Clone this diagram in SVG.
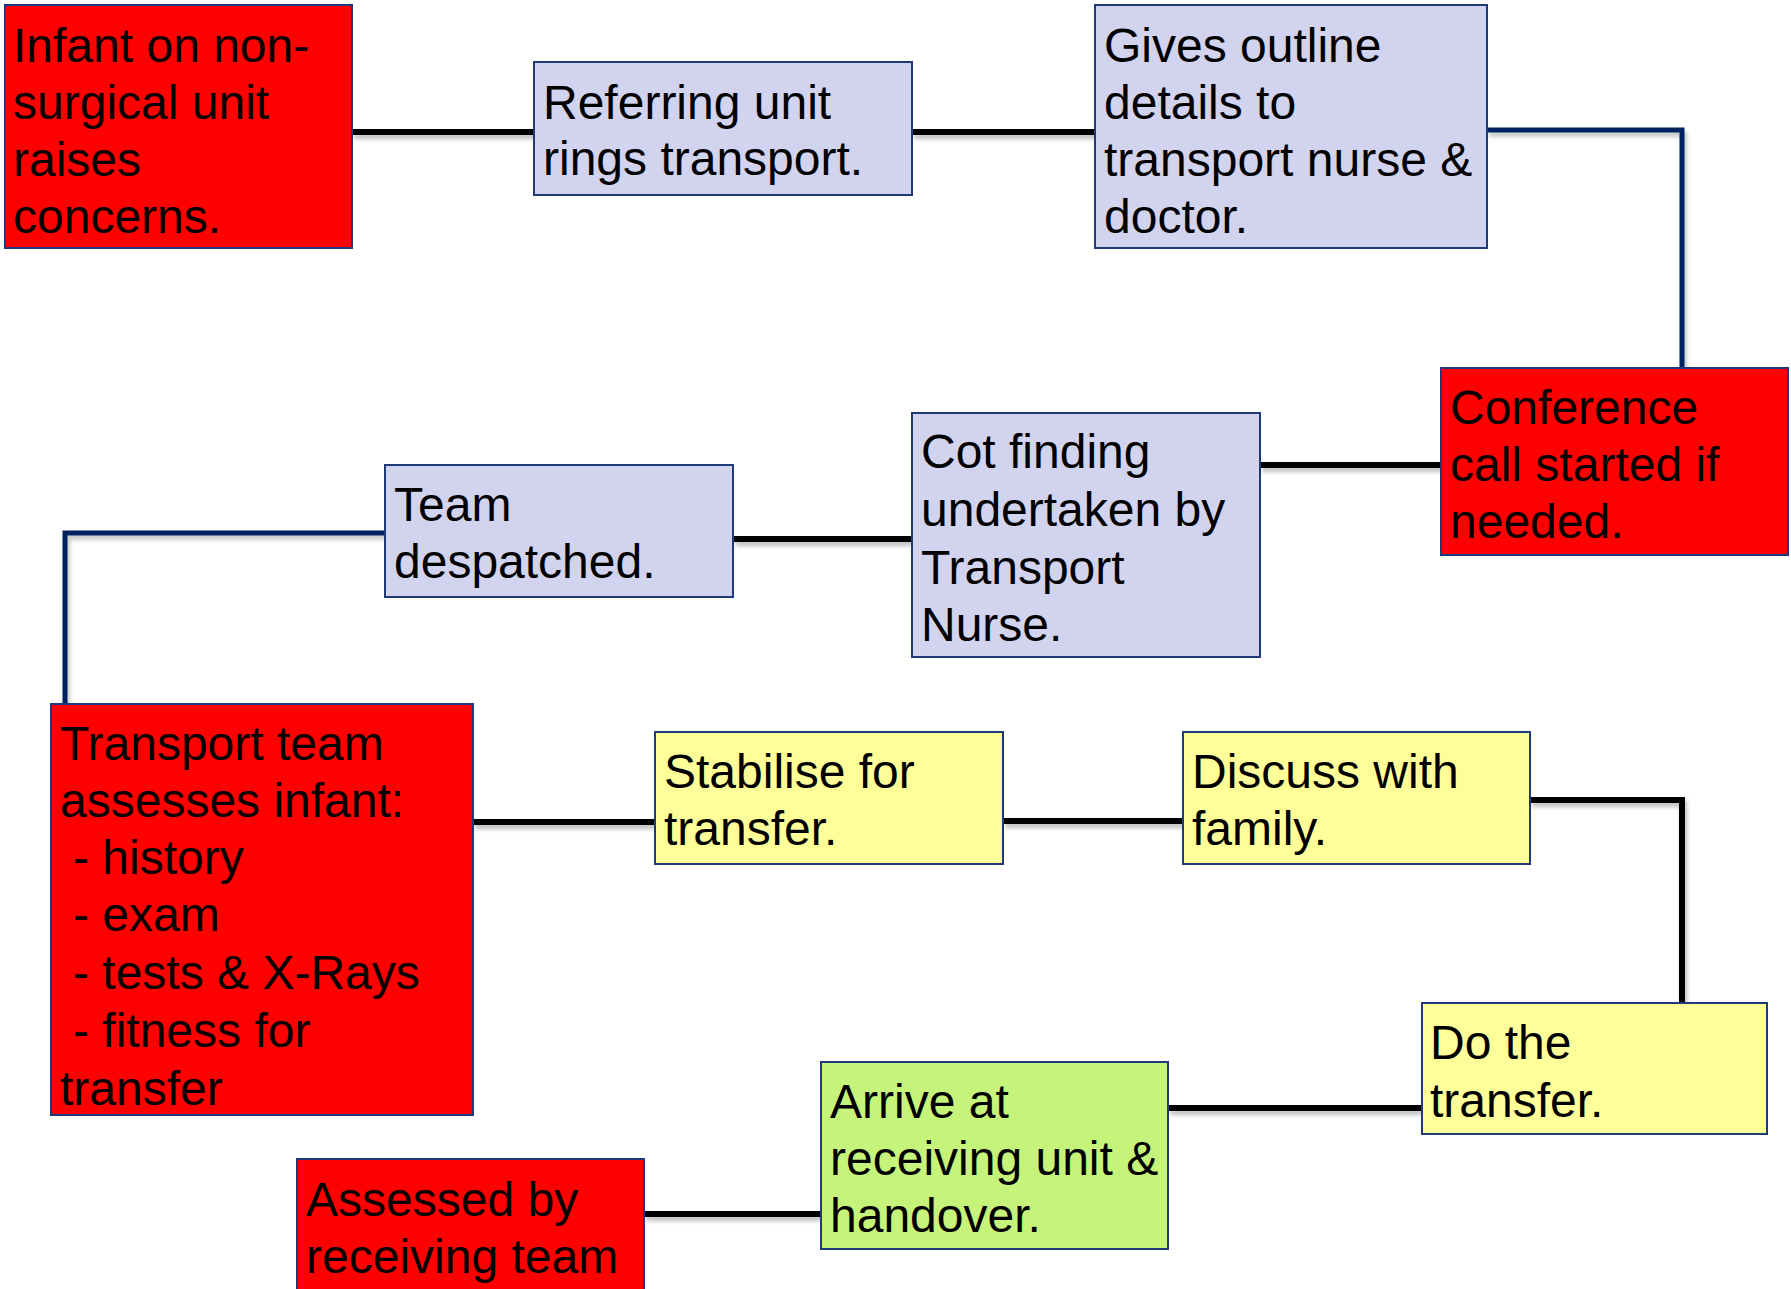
<svg xmlns="http://www.w3.org/2000/svg" width="1791" height="1289" viewBox="0 0 1791 1289">
<defs>
<style>
.box{stroke:#1f3a78;stroke-width:2}
.red{fill:#ff0000}
.lav{fill:#d1d3ef}
.yel{fill:#ffff99}
.grn{fill:#c6f47a}
.t{font-family:"Liberation Sans",Arial,sans-serif;font-size:48px;fill:#000}
.cb{fill:none;stroke:#000;stroke-width:6;filter:url(#sh)}
.cn{fill:none;stroke:#002060;stroke-width:5;filter:url(#sh)}
</style>
<filter id="sh" filterUnits="userSpaceOnUse" x="0" y="0" width="1791" height="1289">
<feDropShadow dx="2" dy="4" stdDeviation="2" flood-color="#000" flood-opacity="0.25"/>
</filter>
</defs>
<rect width="1791" height="1289" fill="#fff"/>
<g id="connectors">
<path class="cb" d="M352 132 H534"/>
<path class="cb" d="M912 132 H1095"/>
<path class="cn" d="M1487 130 H1682 V368"/>
<path class="cb" d="M1441 465 H1260"/>
<path class="cb" d="M912 539 H733"/>
<path class="cn" d="M385 533 H65 V703"/>
<path class="cb" d="M473 822 H655"/>
<path class="cb" d="M1003 821 H1183"/>
<path class="cb" d="M1530 800 H1682 V1003"/>
<path class="cb" d="M1422 1108 H1168"/>
<path class="cb" d="M821 1214 H644"/>
</g>
<g id="n1"><rect class="box red" x="5" y="5" width="347" height="243"/>
<text class="t" x="13" y="62">Infant on non-</text><text class="t" x="13" y="119">surgical unit</text><text class="t" x="13" y="176">raises</text><text class="t" x="13" y="233">concerns.</text></g>
<g id="n2"><rect class="box lav" x="534" y="62" width="378" height="133"/>
<text class="t" x="543" y="119">Referring unit</text><text class="t" x="543" y="175">rings transport.</text></g>
<g id="n3"><rect class="box lav" x="1095" y="5" width="392" height="243"/>
<text class="t" x="1104" y="62">Gives outline</text><text class="t" x="1104" y="119">details to</text><text class="t" x="1104" y="176">transport nurse &amp;</text><text class="t" x="1104" y="233">doctor.</text></g>
<g id="n4"><rect class="box red" x="1441" y="368" width="347" height="187"/>
<text class="t" x="1450" y="424">Conference</text><text class="t" x="1450" y="481">call started if</text><text class="t" x="1450" y="538">needed.</text></g>
<g id="n5"><rect class="box lav" x="912" y="413" width="348" height="244"/>
<text class="t" x="921" y="468">Cot finding</text><text class="t" x="921" y="526">undertaken by</text><text class="t" x="921" y="584">Transport</text><text class="t" x="921" y="641">Nurse.</text></g>
<g id="n6"><rect class="box lav" x="385" y="465" width="348" height="132"/>
<text class="t" x="394" y="521">Team</text><text class="t" x="394" y="578">despatched.</text></g>
<g id="n7"><rect class="box red" x="51" y="704" width="422" height="411"/>
<text class="t" x="60" y="760">Transport team</text><text class="t" x="60" y="817">assesses infant:</text><text class="t" x="73" y="874">- history</text><text class="t" x="73" y="931">- exam</text><text class="t" x="73" y="989">- tests &amp; X-Rays</text><text class="t" x="73" y="1047">- fitness for</text><text class="t" x="60" y="1105">transfer</text></g>
<g id="n8"><rect class="box yel" x="655" y="732" width="348" height="132"/>
<text class="t" x="664" y="788">Stabilise for</text><text class="t" x="664" y="845">transfer.</text></g>
<g id="n9"><rect class="box yel" x="1183" y="732" width="347" height="132"/>
<text class="t" x="1192" y="788">Discuss with</text><text class="t" x="1192" y="845">family.</text></g>
<g id="n10"><rect class="box yel" x="1422" y="1003" width="345" height="131"/>
<text class="t" x="1430" y="1059">Do the</text><text class="t" x="1430" y="1117">transfer.</text></g>
<g id="n11"><rect class="box grn" x="821" y="1062" width="347" height="187"/>
<text class="t" x="830" y="1118">Arrive at</text><text class="t" x="830" y="1175">receiving unit &amp;</text><text class="t" x="830" y="1232">handover.</text></g>
<g id="n12"><rect class="box red" x="297" y="1159" width="347" height="150"/>
<text class="t" x="306" y="1216">Assessed by</text><text class="t" x="306" y="1273">receiving team</text></g>
</svg>
